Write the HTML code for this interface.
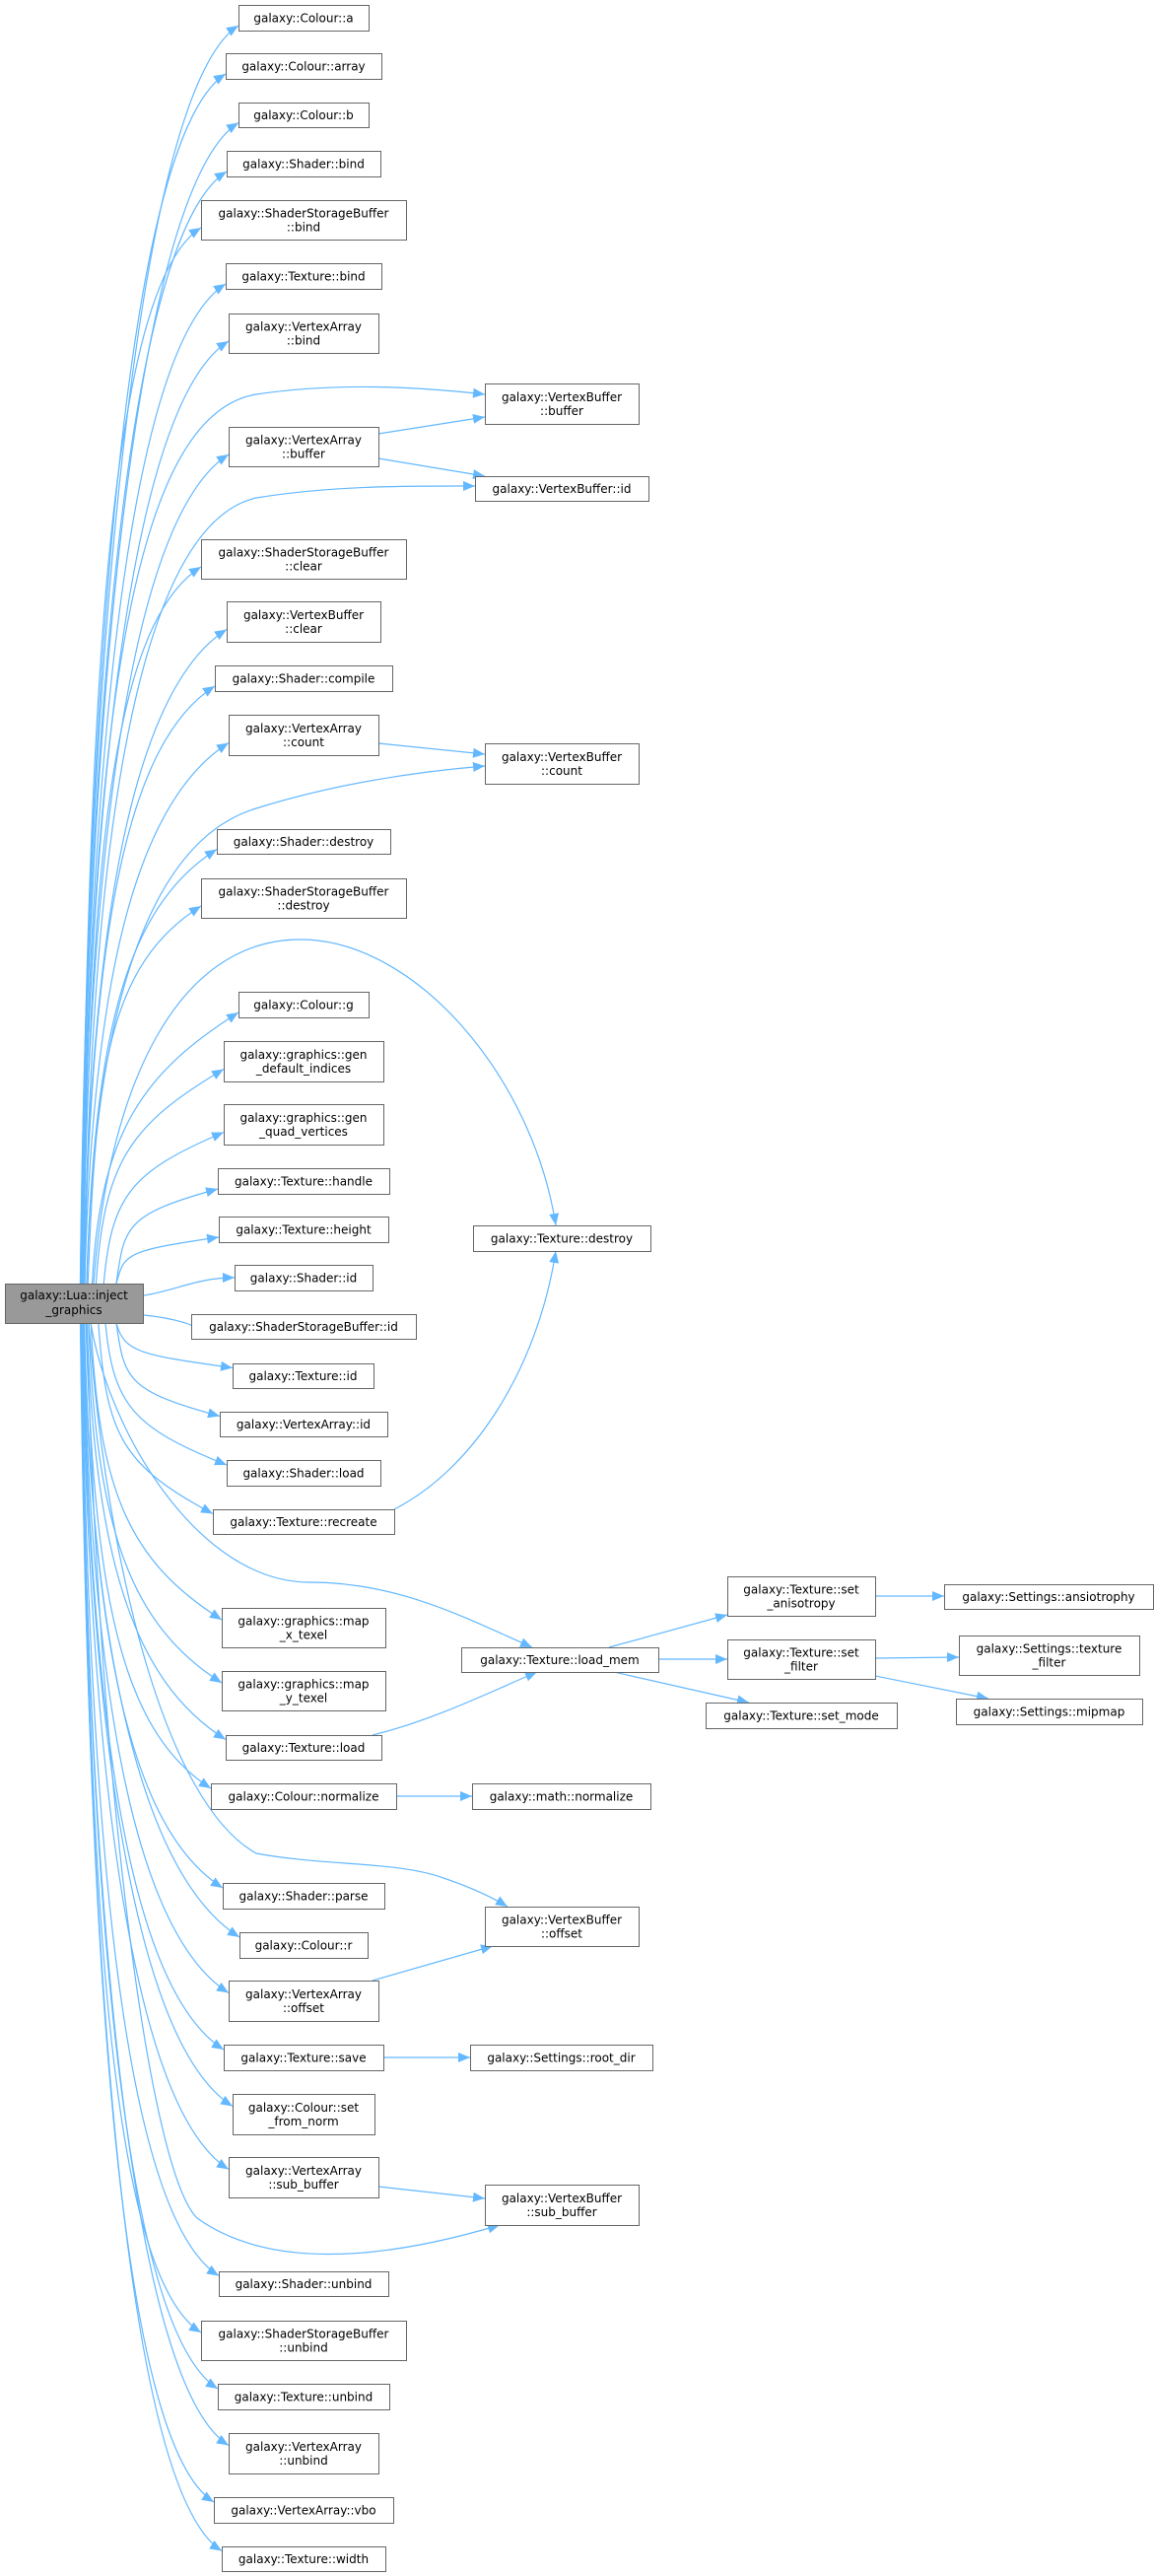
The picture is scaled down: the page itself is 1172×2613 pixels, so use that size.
<!DOCTYPE html>
<html><head><meta charset="utf-8">
<style>
html,body{margin:0;padding:0;background:#fff;}
svg{display:block;}
text{font-family:"DejaVu Sans","Liberation Sans",sans-serif;font-size:12px;fill:#000;}
</style></head>
<body>
<svg id="g" width="1172" height="2613" viewBox="0 0 1172 2613" xmlns="http://www.w3.org/2000/svg">
<defs>
<marker id="ar" markerUnits="userSpaceOnUse" markerWidth="14" markerHeight="12" refX="12" refY="5" orient="auto">
<path d="M0,0 L12,5 L0,10 Z" fill="#63b8ff"/>
</marker>
</defs>
<g id="edges" fill="none" stroke="#63b8ff" stroke-width="1.2"></g>
<g id="nodes"></g>
</svg>
<script>
var N=[
["a",242,5,374,31,["galaxy::Colour::a"]],
["array",229,54,387,80,["galaxy::Colour::array"]],
["b",242,104,374,129,["galaxy::Colour::b"]],
["sbind",230,153,386,179,["galaxy::Shader::bind"]],
["ssbbind",204,203,412,243,["galaxy::ShaderStorageBuffer","::bind"]],
["tbind",229,267,387,293,["galaxy::Texture::bind"]],
["vabind",232,318,384,358,["galaxy::VertexArray","::bind"]],
["vbbuffer",492,389,648,430,["galaxy::VertexBuffer","::buffer"],1],
["vabuffer",232,433,384,473,["galaxy::VertexArray","::buffer"]],
["vbid",482,483,658,508,["galaxy::VertexBuffer::id"],1],
["ssbclear",204,547,412,587,["galaxy::ShaderStorageBuffer","::clear"]],
["vbclear",230,610,386,651,["galaxy::VertexBuffer","::clear"]],
["compile",218,675,398,701,["galaxy::Shader::compile"]],
["vacount",232,725,384,766,["galaxy::VertexArray","::count"]],
["vbcount",492,754,648,795,["galaxy::VertexBuffer","::count"],1],
["sdestroy",220,841,396,866,["galaxy::Shader::destroy"]],
["ssbdestroy",204,891,412,931,["galaxy::ShaderStorageBuffer","::destroy"]],
["g",242,1006,374,1032,["galaxy::Colour::g"]],
["gendef",227,1056,389,1097,["galaxy::graphics::gen","_default_indices"]],
["genquad",227,1120,389,1161,["galaxy::graphics::gen","_quad_vertices"]],
["handle",221,1185,395,1211,["galaxy::Texture::handle"]],
["height",222,1234,394,1260,["galaxy::Texture::height"]],
["tdestroy",480,1243,660,1269,["galaxy::Texture::destroy"],1],
["sid",238,1283,378,1309,["galaxy::Shader::id"]],
["ssbid",194,1333,422,1358,["galaxy::ShaderStorageBuffer::id"]],
["tid",236,1383,379,1408,["galaxy::Texture::id"]],
["vaid",223,1432,393,1457,["galaxy::VertexArray::id"]],
["sload",230,1481,386,1507,["galaxy::Shader::load"]],
["recreate",216,1531,400,1556,["galaxy::Texture::recreate"]],
["mapx",225,1631,391,1671,["galaxy::graphics::map","_x_texel"]],
["mapy",225,1695,391,1735,["galaxy::graphics::map","_y_texel"]],
["tload",229,1760,387,1785,["galaxy::Texture::load"]],
["cnorm",214,1809,402,1835,["galaxy::Colour::normalize"]],
["mnorm",479,1809,660,1835,["galaxy::math::normalize"],1],
["loadmem",468,1671,668,1696,["galaxy::Texture::load_mem"],1],
["aniso",738,1599,888,1639,["galaxy::Texture::set","_anisotropy"],1],
["filter",738,1663,888,1703,["galaxy::Texture::set","_filter"],1],
["mode",716,1727,910,1753,["galaxy::Texture::set_mode"],1],
["ansio",958,1607,1170,1632,["galaxy::Settings::ansiotrophy"],1],
["tfilter",973,1659,1156,1699,["galaxy::Settings::texture","_filter"],1],
["mipmap",970,1723,1159,1749,["galaxy::Settings::mipmap"],1],
["parse",226,1910,390,1936,["galaxy::Shader::parse"]],
["vboffset",492,1934,648,1974,["galaxy::VertexBuffer","::offset"],1],
["r",243,1960,373,1986,["galaxy::Colour::r"]],
["vaoffset",232,2009,384,2050,["galaxy::VertexArray","::offset"]],
["save",227,2074,389,2100,["galaxy::Texture::save"]],
["rootdir",477,2074,662,2100,["galaxy::Settings::root_dir"],1],
["setnorm",236,2124,380,2165,["galaxy::Colour::set","_from_norm"]],
["vasub",232,2188,384,2229,["galaxy::VertexArray","::sub_buffer"]],
["vbsub",492,2216,648,2257,["galaxy::VertexBuffer","::sub_buffer"],1],
["sunbind",222,2304,394,2329,["galaxy::Shader::unbind"]],
["ssbunbind",204,2354,412,2394,["galaxy::ShaderStorageBuffer","::unbind"]],
["tunbind",221,2418,395,2444,["galaxy::Texture::unbind"]],
["vaunbind",232,2468,384,2509,["galaxy::VertexArray","::unbind"]],
["vbo",217,2533,399,2559,["galaxy::VertexArray::vbo"]],
["width",225,2583,391,2608,["galaxy::Texture::width"]]
];
var NS="http://www.w3.org/2000/svg";
var E=document.getElementById("edges"),G=document.getElementById("nodes");
function el(t,a,p){var e=document.createElementNS(NS,t);for(var k in a)e.setAttribute(k,a[k]);p.appendChild(e);return e;}
function path(d){el("path",{d:d,"marker-end":"url(#ar)"},E);}
// Lua node
el("rect",{x:5.5,y:1302.5,width:140,height:40,fill:"#999999",stroke:"#666666"},G);
var t=el("text",{x:75,y:1318,"text-anchor":"middle"},G);t.textContent="galaxy::Lua::inject";
t=el("text",{x:75,y:1333,"text-anchor":"middle"},G);t.textContent="_graphics";
var M={};
N.forEach(function(n){
 M[n[0]]=n;
 el("rect",{x:n[1]+.5,y:n[2]+.5,width:n[3]-n[1],height:n[4]-n[2],fill:"#fff",stroke:"#666666"},G);
 var cx=(n[1]+n[3])/2,cy=(n[2]+n[4])/2,L=n[5];
 if(L.length==1){var tt=el("text",{x:cx,y:cy+4.5,"text-anchor":"middle"},G);tt.textContent=L[0];}
 else{for(var i=0;i<2;i++){var tt=el("text",{x:cx,y:cy-2.5+i*14,"text-anchor":"middle"},G);tt.textContent=L[i];}}
});
// Lua -> column-1 edges
N.forEach(function(n){
 if(n[6])return;
 var x1=n[1],cy=(n[2]+n[4])/2;
 var d;
 if(Math.abs(cy-1322)<45){
   var sy=cy<1322?1314:1334;
   d="M146,"+sy+" C180,"+(sy+(cy-sy)*0.3)+" 200,"+cy+" "+(x1)+","+cy;
 } else if(cy<1322){
   var dist=1302-cy;
   var sx=78+40*Math.min(1,110/dist);
   var ey=cy+Math.min(8,(n[4]-n[2])/2-2);
   d="M"+sx+",1302 C"+(sx+8)+","+(1302-dist*0.55)+" "+(x1-95)+","+(ey+Math.min(60,dist*0.25))+" "+x1+","+ey;
 } else {
   var dist=cy-1342;
   var sx=78+40*Math.min(1,110/dist);
   var ey=cy-Math.min(8,(n[4]-n[2])/2-2);
   d="M"+sx+",1342 C"+(sx+8)+","+(1342+dist*0.55)+" "+(x1-95)+","+(ey-Math.min(60,dist*0.25))+" "+x1+","+ey;
 }
 path(d);
});
// special edges
path("M84,1302 C90,700 140,420 260,400 C340,388 420,392 492,400");
path("M86,1302 C92,800 150,530 260,505 C340,492 420,493 482,493");
path("M384,440 L492,423");
path("M384,465 L492,483");
path("M384,754 L492,765");
path("M88,1302 C96,1000 160,850 260,820 C340,795 420,783 492,777");
path("M95,1302 C110,1100 180,953 305,953 C420,953 540,1090 564,1243");
path("M400,1531 C480,1490 545,1390 564,1269");
path("M92,1342 C110,1450 200,1605 314,1605 C404,1605 470,1640 540,1671");
path("M378,1760 C440,1745 500,1715 545,1696");
path("M618,1671 L738,1638");
path("M668,1683 L738,1683");
path("M623,1696 L760,1727");
path("M888,1619 L958,1619");
path("M888,1682 L973,1681");
path("M888,1700 L1003,1723");
path("M402,1822 L479,1822");
path("M90,1342 C110,1600 170,1830 260,1880 C330,1893 404,1888 450,1905 C480,1915 500,1925 515,1934");
path("M378,2009 L500,1974");
path("M389,2087 L477,2087");
path("M384,2218 L492,2230");
path("M88,1342 C100,1800 150,2200 200,2250 C270,2300 380,2295 507,2257");
</script>
</body></html>
